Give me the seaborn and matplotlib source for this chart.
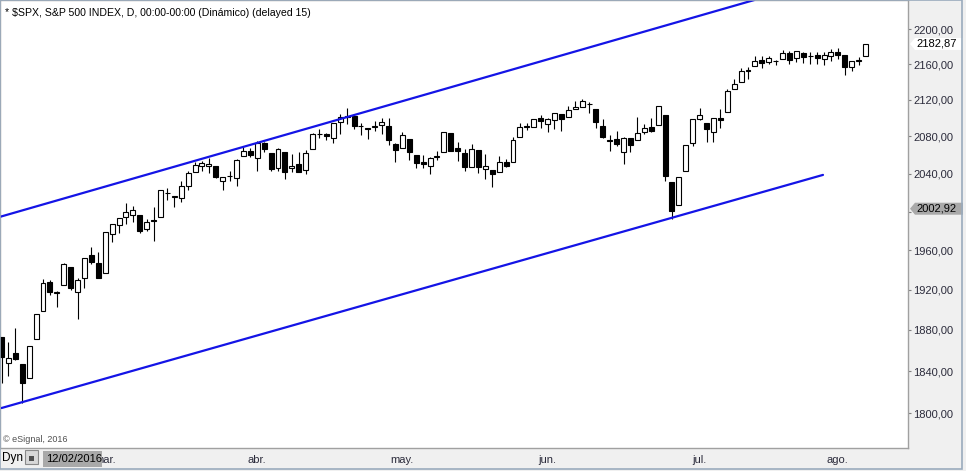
import matplotlib
matplotlib.use("Agg")
import matplotlib.pyplot as plt
from matplotlib.patches import Polygon, Rectangle
from matplotlib.ticker import FixedLocator, NullLocator, FuncFormatter
import seaborn as sns
import pandas as pd
import numpy as np

# S&P 500 daily candles, 8 Feb 2016 - 5 Aug 2016
holidays = ["2016-02-15", "2016-03-25", "2016-05-30", "2016-07-04"]
month_labels = ["mar.", "abr.", "may.", "jun.", "jul.", "ago."]

opens = [1873.3, 1848.3, 1857.1, 1847.0, 1833.4, 1871.4, 1898.8, 1927.6, 1916.7, 1924.4,
         1942.7, 1917.6, 1931.6, 1954.9, 1947.1, 1937.1, 1976.6, 1985.6, 1994.0, 1996.1,
         1996.1, 1981.4, 1991.0, 1994.7, 2019.3, 2015.3, 2014.2, 2026.9, 2041.2, 2048.0,
         2048.6, 2048.6, 2032.5, 2037.9, 2035.8, 2058.3, 2063.8, 2056.6, 2073.2, 2062.5,
         2045.6, 2063.4, 2045.5, 2050.2, 2043.7, 2065.9, 2082.9, 2083.1, 2078.8, 2096.1,
         2101.5, 2102.1, 2091.5, 2089.4, 2089.8, 2092.3, 2090.9, 2071.8, 2067.2, 2077.2,
         2060.3, 2052.9, 2047.8, 2057.6, 2062.6, 2083.3, 2067.2, 2062.5, 2046.5, 2065.0,
         2044.4, 2044.2, 2041.9, 2052.2, 2052.6, 2078.9, 2091.4, 2090.1, 2100.1, 2093.9,
         2097.7, 2104.1, 2100.8, 2110.2, 2112.7, 2115.7, 2109.6, 2091.8, 2076.6, 2077.6,
         2063.5, 2078.2, 2075.6, 2085.2, 2089.8, 2092.8, 2103.8, 2031.5, 2006.7, 2042.7,
         2073.2, 2099.3, 2095.0, 2084.4, 2100.4, 2106.9, 2131.6, 2139.5, 2153.8, 2157.9,
         2165.1, 2162.0, 2163.8, 2166.1, 2172.9, 2166.5, 2173.1, 2169.0, 2169.8, 2166.0,
         2168.8, 2173.2, 2169.9, 2156.8, 2163.5, 2168.8]
highs = [1873.3, 1868.3, 1881.6, 1847.0, 1864.8, 1895.8, 1930.7, 1930.0, 1918.8, 1946.7,
         1942.7, 1932.1, 1951.8, 1962.9, 1958.0, 1978.4, 1986.5, 1993.7, 2009.1, 2006.1,
         1996.4, 1992.7, 2005.1, 2022.4, 2024.6, 2015.9, 2032.0, 2043.1, 2052.4, 2053.9,
         2056.6, 2048.6, 2036.0, 2042.7, 2055.9, 2070.0, 2067.9, 2075.1, 2074.0, 2062.5,
         2067.3, 2063.4, 2060.6, 2062.9, 2065.1, 2083.2, 2087.8, 2083.2, 2094.7, 2104.9,
         2111.1, 2103.8, 2094.3, 2089.4, 2096.9, 2099.9, 2099.9, 2073.0, 2084.9, 2077.2,
         2060.3, 2060.2, 2057.7, 2064.2, 2084.9, 2083.3, 2073.9, 2066.8, 2071.9, 2065.7,
         2060.6, 2044.2, 2058.4, 2055.6, 2079.7, 2094.7, 2094.3, 2099.1, 2103.5, 2100.2,
         2105.3, 2104.1, 2113.4, 2119.2, 2120.6, 2117.6, 2109.6, 2098.5, 2081.3, 2085.6,
         2079.6, 2078.2, 2100.7, 2093.9, 2099.7, 2113.3, 2103.8, 2031.5, 2036.1, 2070.8,
         2098.9, 2111.0, 2095.0, 2099.8, 2109.8, 2131.7, 2143.2, 2155.4, 2156.5, 2168.9,
         2169.1, 2169.0, 2164.6, 2175.6, 2174.6, 2175.1, 2173.6, 2173.5, 2174.0, 2173.5,
         2177.1, 2178.3, 2170.2, 2163.8, 2168.0, 2182.9]
lows = [1828.5, 1834.9, 1850.5, 1810.1, 1833.4, 1871.4, 1898.8, 1915.1, 1902.2, 1924.4,
        1919.4, 1891.0, 1922.0, 1945.8, 1931.8, 1937.1, 1968.0, 1977.4, 1986.6, 1989.4,
        1977.4, 1979.8, 1969.3, 1994.7, 2012.2, 2005.2, 2010.0, 2022.2, 2041.2, 2043.1,
        2040.6, 2034.9, 2022.5, 2031.9, 2026.3, 2058.3, 2057.5, 2043.1, 2062.6, 2042.6,
        2042.6, 2033.8, 2041.7, 2041.9, 2039.7, 2065.9, 2078.1, 2076.3, 2073.3, 2082.5,
        2093.4, 2088.5, 2081.2, 2077.5, 2085.8, 2082.3, 2070.3, 2052.4, 2067.2, 2054.9,
        2045.6, 2045.8, 2039.5, 2054.3, 2062.6, 2064.5, 2053.1, 2043.1, 2046.5, 2040.8,
        2034.5, 2025.9, 2041.9, 2047.3, 2052.6, 2078.9, 2087.1, 2090.1, 2088.7, 2085.1,
        2088.6, 2085.4, 2100.8, 2110.2, 2112.7, 2106.1, 2089.3, 2078.5, 2064.2, 2069.4,
        2050.4, 2063.0, 2075.6, 2083.0, 2084.7, 2092.8, 2032.1, 1991.7, 2006.7, 2042.7,
        2070.0, 2097.7, 2074.0, 2074.0, 2089.4, 2106.9, 2131.6, 2139.5, 2143.0, 2157.9,
        2155.8, 2159.8, 2159.0, 2166.1, 2159.8, 2162.0, 2161.0, 2160.2, 2159.7, 2159.1,
        2163.0, 2165.8, 2147.6, 2152.0, 2159.0, 2168.8]
closes = [1853.4, 1852.2, 1851.9, 1829.1, 1864.8, 1895.6, 1926.8, 1917.8, 1917.8, 1945.5,
          1921.3, 1929.8, 1951.7, 1948.1, 1932.2, 1978.4, 1986.5, 1993.4, 2000.0, 2001.8,
          1979.3, 1989.3, 1989.6, 2022.2, 2019.6, 2015.9, 2027.2, 2040.6, 2049.6, 2051.6,
          2049.8, 2036.7, 2035.9, 2037.1, 2055.0, 2063.9, 2059.7, 2072.8, 2066.1, 2045.2,
          2066.7, 2041.9, 2047.6, 2042.0, 2061.7, 2082.4, 2082.8, 2080.7, 2094.3, 2100.8,
          2102.4, 2091.5, 2091.6, 2087.8, 2091.7, 2095.2, 2075.8, 2065.3, 2081.4, 2063.4,
          2051.1, 2050.6, 2057.1, 2058.7, 2084.4, 2064.5, 2064.1, 2046.6, 2066.7, 2047.2,
          2047.6, 2040.0, 2052.3, 2048.0, 2076.1, 2090.5, 2090.1, 2099.1, 2096.9, 2099.3,
          2105.3, 2099.1, 2109.4, 2112.1, 2119.1, 2115.5, 2096.1, 2079.1, 2075.3, 2071.5,
          2078.0, 2071.2, 2083.3, 2088.9, 2085.5, 2113.3, 2037.4, 2000.5, 2036.1, 2070.8,
          2098.9, 2103.0, 2088.6, 2099.7, 2097.9, 2129.9, 2137.2, 2152.1, 2152.4, 2163.8,
          2161.7, 2166.9, 2163.8, 2173.0, 2165.2, 2175.0, 2168.5, 2169.2, 2166.6, 2170.1,
          2173.6, 2170.8, 2157.0, 2163.8, 2164.3, 2182.9]

# trend channel anchors (bar index, price)
upper_channel = [(0, 1994.9), (125, 2271.2)]
lower_channel = [(0, 1804.9), (118.85, 2038.6)]

y_ticks = [1800, 1840, 1880, 1920, 1960, 2000, 2040, 2080, 2120, 2160, 2200]
hidden_tick = 2000  # sits under the cursor price box
last_price = 2182.87
cursor_price = 2002.92
cursor_date = "12/02/2016"

dates = pd.bdate_range("2016-02-08", "2016-08-05").drop(pd.to_datetime(holidays))
month_starts = [i for i in range(1, len(dates)) if dates[i].month != dates[i - 1].month]

sns.set_style("white")
plt.rcParams["font.family"] = ["Liberation Sans", "DejaVu Sans"]

W, H = 966, 471
fig = plt.figure(figsize=(W / 100, H / 100), dpi=100)
fig.patch.set_facecolor("#f0f0f0")
ax = fig.add_axes([0, (H - 448) / H, 908 / W, 448 / H])
ax.set_facecolor("white")

idx = np.arange(len(closes))
o = np.array(opens)
c = np.array(closes)
up = c >= o

ax.vlines(idx, lows, highs, color="black", linewidth=0.8, zorder=2)
ax.bar(idx[up], (c - o)[up], bottom=o[up], width=0.72, facecolor="white",
       edgecolor="black", linewidth=0.8, zorder=3)
ax.bar(idx[~up], (o - c)[~up], bottom=c[~up], width=0.72, facecolor="black",
       edgecolor="black", linewidth=0.8, zorder=3)

ax.set_yscale("log")
ax.set_xlim(-0.22, 131.15)
ax.set_ylim(1767.6, 2233.6)

# channel lines
ax.axline(upper_channel[0], upper_channel[1], color="#1414e6", linewidth=1.6, zorder=4)
sns.lineplot(x=[p[0] for p in lower_channel], y=[p[1] for p in lower_channel], ax=ax,
             color="#1414e6", linewidth=1.6, zorder=4)


def price_fmt(v, pos):
    if abs(v - hidden_tick) < 0.01:
        return ""
    return f"{v:.2f}".replace(".", ",")


ax.yaxis.tick_right()
ax.yaxis.set_major_locator(FixedLocator(y_ticks))
ax.yaxis.set_minor_locator(NullLocator())
ax.yaxis.set_major_formatter(FuncFormatter(price_fmt))
ax.yaxis.set_minor_formatter(FuncFormatter(lambda v, p: ""))
ax.tick_params(axis="y", which="major", direction="out", length=2.5, pad=1.5,
               color="#808080", labelcolor="#2b2b3b", labelsize=8, right=True, left=False)
ax.set_xticks(month_starts)
ax.set_xticklabels(month_labels)
ax.tick_params(axis="x", direction="out", length=3, pad=2, color="#808080",
               labelcolor="#2b2b3b", labelsize=8)
for s in ax.spines.values():
    s.set_color("#a0a0a0")
    s.set_linewidth(1)

fig.text(5 / W, 1 - 13 / H, "* \\$SPX, S&P 500 INDEX, D, 00:00-00:00 (Dinámico) (delayed 15)",
         fontsize=7.6, color="black", va="center", ha="left")
fig.text(3 / W, 1 - 440 / H, "© eSignal, 2016", fontsize=6.5, color="#505050",
         va="center", ha="left")

# bottom-left widgets
fig.text(2 / W, 1 - 458 / H, "Dyn", fontsize=8.5, color="black", va="center", ha="left")
fig.add_artist(Rectangle((25 / W, 1 - 464 / H), 13 / W, 14 / H, transform=fig.transFigure,
                         facecolor="#d8d8d8", edgecolor="#8a8a8a", linewidth=0.8))
fig.add_artist(Rectangle((29 / W, 1 - 461 / H), 5 / W, 5 / H, transform=fig.transFigure,
                         facecolor="#505050", edgecolor="none"))
fig.add_artist(Rectangle((43 / W, 1 - 467 / H), 59 / W, 16 / H, transform=fig.transFigure,
                         facecolor="#a9a9a9", edgecolor="none", zorder=5))
fig.text(46 / W, 1 - 459 / H, cursor_date, fontsize=8, color="black", va="center",
         ha="left", zorder=6)

# price boxes on the right axis
for price, face in [(last_price, "white"), (cursor_price, "#a9a9a9")]:
    yd = ax.transData.transform((0, price))[1]
    yf = yd / H
    pts = [(910 / W, yf), (915 / W, yf + 6 / H), (963 / W, yf + 6 / H),
           (963 / W, yf - 6 / H), (915 / W, yf - 6 / H)]
    fig.add_artist(Polygon(pts, closed=True, transform=fig.transFigure, facecolor=face,
                           edgecolor="none", zorder=5))
    fig.text(916 / W, yf, f"{price:.2f}".replace(".", ","), fontsize=8, color="black",
             va="center", ha="left", zorder=6)

# window frame
fig.add_artist(Rectangle((0, 1 - 469 / H), 962 / W, 469 / H, transform=fig.transFigure,
                         facecolor="none", edgecolor="#9aabbd", linewidth=1.2, zorder=7))

fig.savefig("out.png", dpi=100, facecolor=fig.get_facecolor())
